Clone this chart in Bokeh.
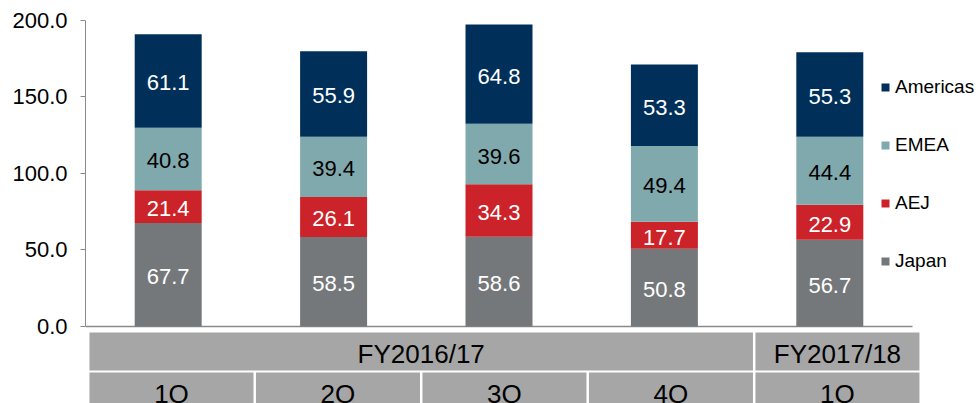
from bokeh.plotting import figure
from bokeh.models import ColumnDataSource, Range1d, FixedTicker, PrintfTickFormatter, Legend, LegendItem
from bokeh.core.properties import value
from bokeh.embed import file_html
from bokeh.resources import INLINE

# ---- data ----
quarters = ["1Q", "2Q", "3Q", "4Q", "1Q"]
fiscal_years = ["FY2016/17", "FY2017/18"]
fy_span = [4, 1]
japan = [67.7, 58.5, 58.6, 50.8, 56.7]
aej = [21.4, 26.1, 34.3, 17.7, 22.9]
emea = [40.8, 39.4, 39.6, 49.4, 44.4]
americas = [61.1, 55.9, 64.8, 53.3, 55.3]
y_ticks = [0, 50, 100, 150, 200]
legend_order = ["Americas", "EMEA", "AEJ", "Japan"]

series = [
    ("Japan", japan, "#75787B", "white"),
    ("AEJ", aej, "#CC2229", "white"),
    ("EMEA", emea, "#80A9AE", "black"),
    ("Americas", americas, "#00305A", "white"),
]

FONT = "Liberation Sans"
n = len(quarters)
PX = 165.4  # px per category

p = figure(width=980, height=403, output_backend="svg", toolbar_location=None,
           x_axis_type=None,
           x_range=Range1d(0, 895 / PX), y_range=Range1d(-50.33, 203.9),
           min_border_left=85, min_border_right=0, min_border_top=14, min_border_bottom=0)
p.xgrid.visible = False
p.ygrid.visible = False
p.outline_line_color = None

ax = p.yaxis[0]
ax.ticker = FixedTicker(ticks=y_ticks)
ax.formatter = PrintfTickFormatter(format="%.1f")
ax.bounds = (0, 200)
ax.major_label_text_font = FONT
ax.major_label_text_font_size = "22px"
ax.major_label_text_color = "black"
ax.axis_line_color = "#8A8A8A"
ax.major_tick_line_color = "#8A8A8A"
ax.major_tick_out = 5
ax.major_tick_in = 0
ax.minor_tick_out = 0
ax.minor_tick_in = 0
ax.major_label_standoff = 13

# baseline
p.segment(x0=[0], x1=[n], y0=[0], y1=[0], line_color="#8A8A8A", line_width=1.5)

bottom = [0.0] * n
renderers = {}
for name, vals, color, tcolor in series:
    top = [b + v for b, v in zip(bottom, vals)]
    src = ColumnDataSource(dict(
        x=[i + 0.5 for i in range(n)], bottom=bottom, top=top,
        mid=[(b + t) / 2 - 1.3 for b, t in zip(bottom, top)],
        label=[f"{v:.1f}" for v in vals]))
    r = p.vbar(x="x", width=0.405, bottom="bottom", top="top", source=src,
               fill_color=color, line_color=None)
    p.text(x="x", y="mid", text="label", source=src, text_color=tcolor,
           text_font=value(FONT), text_font_size="22px",
           text_align="center", text_baseline="middle")
    renderers[name] = r
    bottom = top

legend = Legend(items=[LegendItem(label=nm, renderers=[renderers[nm]]) for nm in legend_order],
                location=(795, 131), orientation="vertical",
                glyph_width=10, glyph_height=10, label_height=20, label_standoff=5,
                spacing=36, padding=0, margin=0, border_line_color=None,
                background_fill_alpha=0, label_text_font=FONT,
                label_text_font_size="19px", label_text_color="black")
p.add_layout(legend)

# ---- category table below ----
pitch, off, gap = 1.0066, 0.024, 0.015
q_left = [off + i * pitch for i in range(n)]
q_right = [l + pitch - gap for l in q_left]
q_src = ColumnDataSource(dict(left=q_left, right=q_right, cx=[(l + r) / 2 for l, r in zip(q_left, q_right)], label=quarters))
p.quad(left="left", right="right", top=-30.07, bottom=-60, source=q_src,
       fill_color="#A6A6A6", line_color=None)
p.text(x="cx", y=-43.8, text="label", source=q_src, text_color="black",
       text_font=value(FONT), text_font_size="26px", text_align="center",
       text_baseline="alphabetic")

fy_left, fy_right = [], []
start = 0
for span in fy_span:
    fy_left.append(q_left[start])
    fy_right.append(q_right[start + span - 1])
    start += span
fy_src = ColumnDataSource(dict(left=fy_left, right=fy_right, cx=[(l + r) / 2 for l, r in zip(fy_left, fy_right)], label=fiscal_years))
p.quad(left="left", right="right", top=-3.92, bottom=-28.76, source=fy_src,
       fill_color="#A6A6A6", line_color=None)
p.text(x="cx", y=-18.1, text="label", source=fy_src, text_color="black",
       text_font=value(FONT), text_font_size="26px", text_align="center",
       text_baseline="alphabetic")

open("out.html", "w").write(file_html(p, INLINE))
